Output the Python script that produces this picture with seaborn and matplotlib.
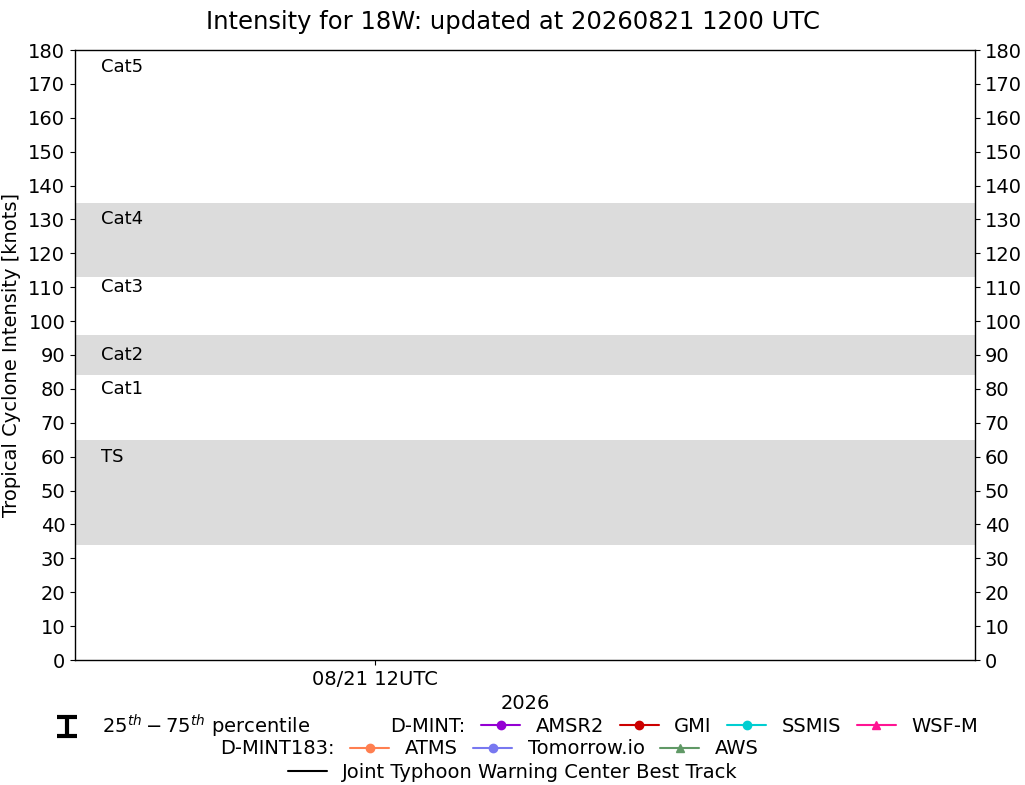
import numpy as np
import pandas as pd
import matplotlib
matplotlib.use("Agg")
import matplotlib.pyplot as plt
import matplotlib.dates as mdates
from matplotlib.lines import Line2D
import seaborn as sns

# ---------------- data ----------------
title = "Intensity for 18W: updated at 20260821 1200 UTC"
year_label = "2026"
x_start = "2026-08-21 06:00"
x_end = "2026-08-22 00:00"
x_ticks = ["2026-08-21 12:00"]
x_tick_labels = ["08/21 12UTC"]

y_min, y_max, y_step = 0, 180, 10

band_low = [34, 84, 113]
band_high = [65, 96, 135]

cat_names = ["TS", "Cat1", "Cat2", "Cat3", "Cat4", "Cat5"]
cat_label_y = [60, 80, 90, 110, 130, 175]

dmint_names = ["AMSR2", "GMI", "SSMIS", "WSF-M"]
dmint_colors = ["#9400d3", "#cc0000", "#00ced1", "#ff1493"]
dmint_markers = ["o", "o", "o", "^"]

dmint183_names = ["ATMS", "Tomorrow.io", "AWS"]
dmint183_colors = ["#ff7f50", "#7878f0", "#609966"]
dmint183_markers = ["o", "o", "^"]

best_track_name = "Joint Typhoon Warning Center Best Track"
percentile_label = r"$25^{th}-75^{th}$ percentile"

# ---------------- style ----------------
sns.set_theme(style="ticks", rc={
    "axes.edgecolor": "black",
    "axes.linewidth": 1.0,
    "xtick.color": "black",
    "ytick.color": "black",
    "text.color": "black",
    "axes.labelcolor": "black",
    "xtick.major.size": 3.5,
    "ytick.major.size": 3.5,
    "xtick.major.width": 0.8,
    "ytick.major.width": 0.8,
})
plt.rcParams["font.family"] = ["DejaVu Sans"]

FS = 14

fig = plt.figure(figsize=(10.25, 7.85), dpi=100)
ax = fig.add_axes([75 / 1025, 1 - 660 / 785, 900 / 1025, 610 / 785])

# bands
for lo, hi in zip(band_low, band_high):
    ax.axhspan(lo, hi, color="#dcdcdc", lw=0, zorder=0)

# category labels
for name, yv in zip(cat_names, cat_label_y):
    ax.text(0.029, yv, name, transform=ax.get_yaxis_transform(),
            fontsize=13, va="center", ha="left")

# axes
t0 = pd.Timestamp(x_start)
t1 = pd.Timestamp(x_end)
ax.set_xlim(mdates.date2num(t0), mdates.date2num(t1))
ax.set_xticks([mdates.date2num(pd.Timestamp(t)) for t in x_ticks])
ax.set_xticklabels(x_tick_labels, fontsize=FS)
ax.set_ylim(y_min, y_max)
ax.set_yticks(np.arange(y_min, y_max + 1, y_step))
ax.tick_params(axis="y", labelsize=FS, right=True, labelright=True)
ax.set_xlabel(year_label, fontsize=FS, labelpad=4)
ax.set_ylabel("Tropical Cyclone Intensity [knots]", fontsize=FS, labelpad=5.5)
for s in ax.spines.values():
    s.set_visible(True)

fig.suptitle(title, fontsize=17.5, y=1 - 22 / 785, va="center")

# legend handles
err = ax.errorbar([np.nan], [np.nan], yerr=[[1], [1]], fmt="none",
                  ecolor="black", elinewidth=3, capsize=7.5, capthick=3)
blank = Line2D([], [], color="none", lw=0)

h1 = [blank]
l1 = ["D-MINT:"]
for n, c, m in zip(dmint_names, dmint_colors, dmint_markers):
    line, = ax.plot([], [], color=c, marker=m, lw=1.5, ms=6, label=n)
    h1.append(line)
    l1.append(n)

h2 = [blank]
l2 = ["D-MINT183:"]
for n, c, m in zip(dmint183_names, dmint183_colors, dmint183_markers):
    line, = ax.plot([], [], color=c, marker=m, lw=1.5, ms=6, label=n)
    h2.append(line)
    l2.append(n)

bt, = ax.plot([], [], color="black", lw=1.5)
h3 = [bt]
l3 = [best_track_name]

common = dict(frameon=False, fontsize=FS, handlelength=2.0,
              handletextpad=0.8, columnspacing=0.8, borderpad=0.0,
              borderaxespad=0.0)
fig.legend([err], [percentile_label], loc="center left",
           bbox_to_anchor=(48 / 1025, 1 - 726 / 785), **common)
fig.legend(h1, l1, ncol=len(h1), loc="center right",
           bbox_to_anchor=(978 / 1025, 1 - 726 / 785), **common)
fig.legend(h2, l2, ncol=len(h2), loc="center",
           bbox_to_anchor=(462 / 1025, 1 - 749 / 785), **common)
fig.legend(h3, l3, ncol=1, loc="center",
           bbox_to_anchor=(513 / 1025, 1 - 772 / 785), **common)

fig.savefig("out.png", dpi=100)
